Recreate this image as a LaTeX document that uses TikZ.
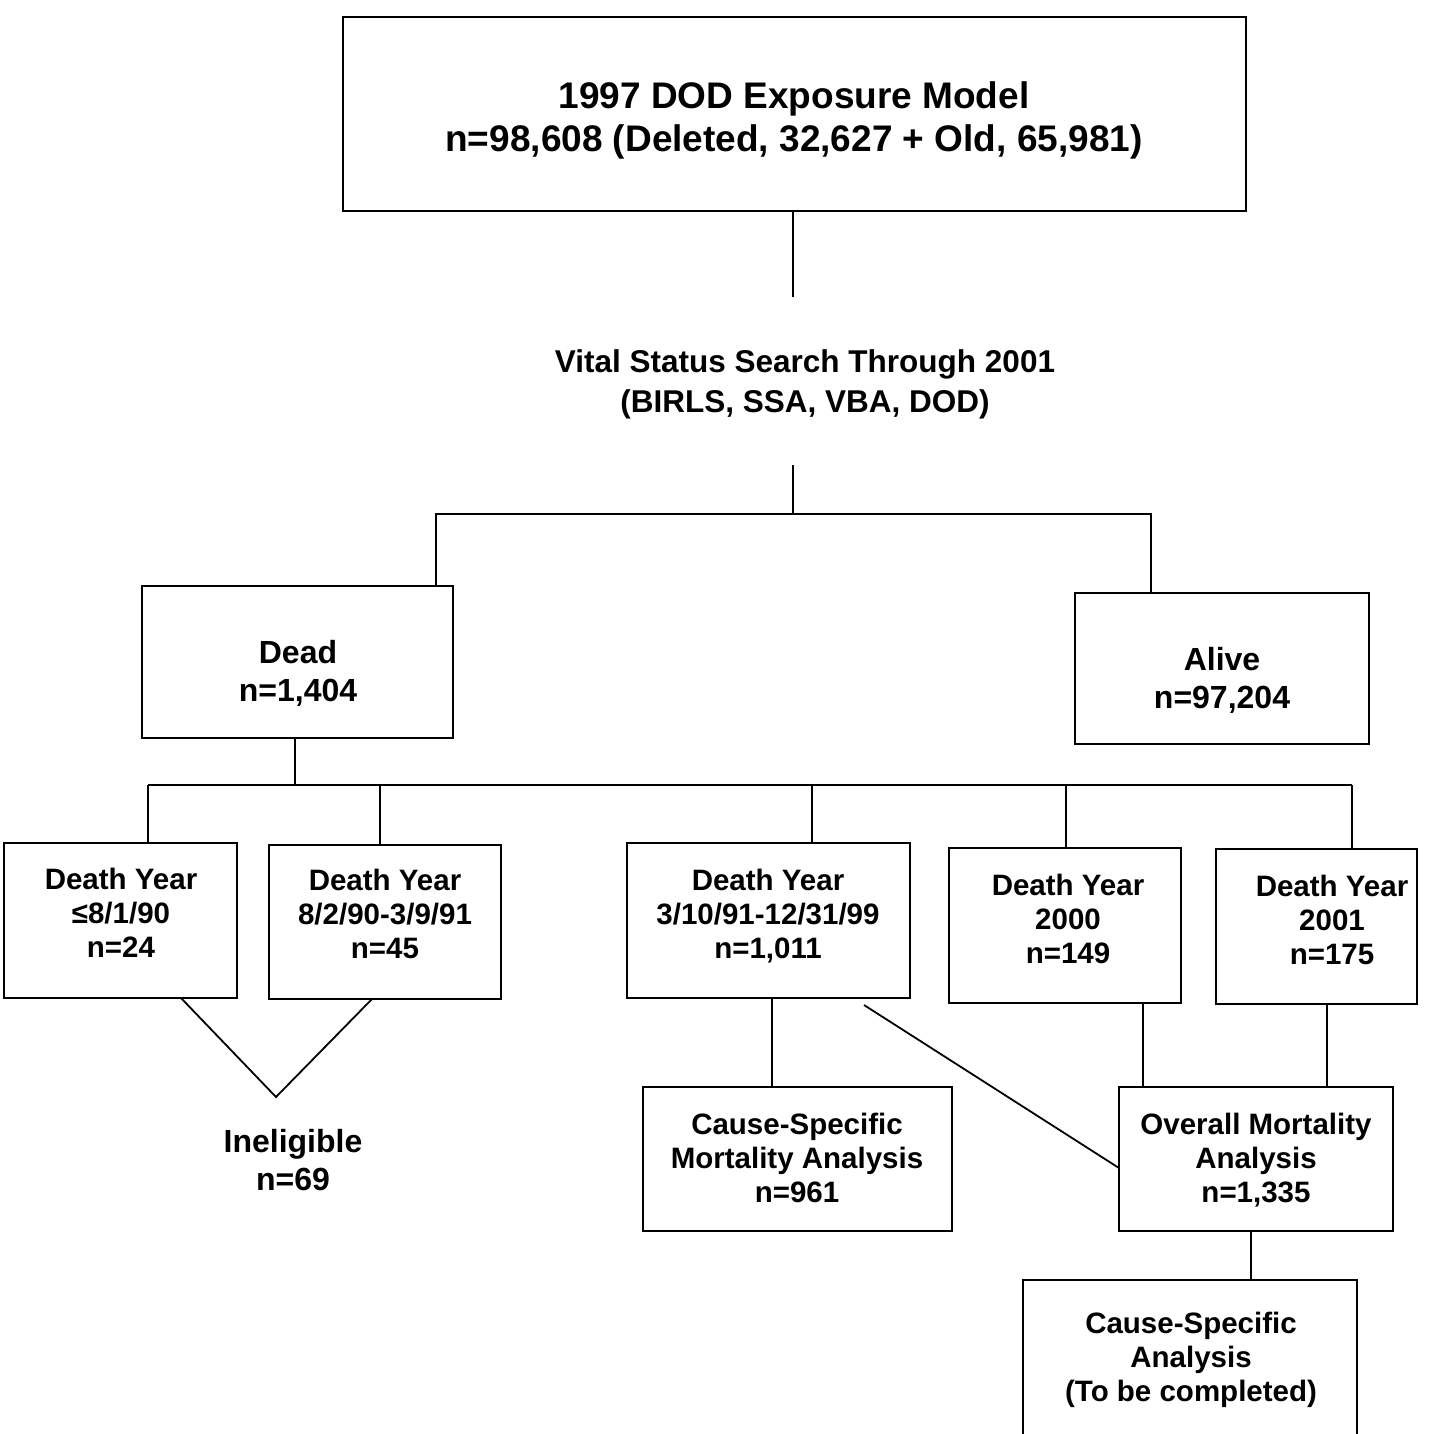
\documentclass[tikz,border=0pt]{standalone}
\usepackage{fontspec}
\setmainfont{Liberation Sans}
\begin{document}
\begin{tikzpicture}[x=1pt,y=-1pt,
  box/.style={draw,line width=1.8pt,inner sep=0pt,outer sep=0pt},
  txt/.style={align=center,inner sep=0pt,font=\bfseries\fontsize{29.5}{34}\selectfont},
  big/.style={align=center,inner sep=0pt,font=\bfseries\fontsize{37}{43}\selectfont},
  mid/.style={align=center,inner sep=0pt,font=\bfseries\fontsize{31.5}{40}\selectfont},
  mid2/.style={align=center,inner sep=0pt,font=\bfseries\fontsize{32}{38}\selectfont},
  ln/.style={line width=1.8pt}]
\useasboundingbox[fill=white] (0,0) rectangle (1446,1433);
% boxes
\node[box,minimum width=903pt,minimum height=194pt] (top) at (794.5,114) {};
\node[big] (toptxt) at (794,120) {1997 DOD Exposure Model\\n=98,608 (Deleted, 32,627 + Old, 65,981)};
\node[mid] (vital) at (805,384) {Vital Status Search Through 2001\\(BIRLS, SSA, VBA, DOD)};
\node[box,minimum width=311pt,minimum height=152pt] (dead) at (297.5,662) {};
\node[mid2] (deadtxt) at (298,673) {Dead\\n=1,404};
\node[box,minimum width=294pt,minimum height=151pt] (alive) at (1222,668.5) {};
\node[mid2] (alivetxt) at (1222,680) {Alive\\n=97,204};
\node[box,minimum width=233pt,minimum height=155pt] (b1) at (120.5,920.5) {};
\node[txt] (b1t) at (121,913) {Death Year\\≤8/1/90\\n=24};
\node[box,minimum width=232pt,minimum height=154pt] (b2) at (385,922) {};
\node[txt] (b2t) at (385,914) {Death Year\\8/2/90-3/9/91\\n=45};
\node[box,minimum width=283pt,minimum height=155pt] (b3) at (768.5,920.5) {};
\node[txt] (b3t) at (768,916) {Death Year\\3/10/91-12/31/99\\n=1,011};
\node[box,minimum width=232pt,minimum height=155pt] (b4) at (1065,925.5) {};
\node[txt] (b4t) at (1068,919) {Death Year\\2000\\n=149};
\node[box,minimum width=201pt,minimum height=155pt] (b5) at (1316.5,926.5) {};
\node[txt] (b5t) at (1332,920) {Death Year\\2001\\n=175};
\node[mid2] (inel) at (293,1160) {Ineligible\\n=69};
\node[box,minimum width=309pt,minimum height=144pt] (csm) at (797.5,1159) {};
\node[txt] (csmt) at (797,1158) {Cause-Specific\\Mortality Analysis\\n=961};
\node[box,minimum width=274pt,minimum height=144pt] (ov) at (1256,1159) {};
\node[txt] (ovt) at (1256,1160) {Overall Mortality\\Analysis\\n=1,335};
\node[inner sep=0pt,outer sep=0pt,minimum width=334pt,minimum height=160pt] (cs) at (1190,1360) {};
\node[txt] (cst) at (1191,1360) {Cause-Specific\\Analysis\\(To be completed)};
\draw[ln] (cs.south west) -- (cs.north west) -- (cs.north east) -- (cs.south east);
% connectors
\coordinate (c1) at (793,297);
\coordinate (v1) at (793,465);
\coordinate (v2) at (793,514);
\coordinate (hd) at (436,514);
\coordinate (ha) at (1151,514);
\coordinate (d1) at (295,785);
\coordinate (hl) at (148,785);
\coordinate (hr) at (1352,785);
\coordinate (h2) at (380,785);
\coordinate (h3) at (812,785);
\coordinate (h4) at (1066,785);
\coordinate (ine) at (276,1097);
\coordinate (ovd) at (1251,1231);
\draw[ln] (top.south -| c1) -- (c1);
\draw[ln] (v1) -- (v2);
\draw[ln] (hd |- dead.north) -- (hd) -- (ha) -- (ha |- alive.north);
\draw[ln] (dead.south -| d1) -- (d1);
\draw[ln] (hl) -- (hr);
\draw[ln] (hl) -- (hl |- b1.north);
\draw[ln] (h2) -- (h2 |- b2.north);
\draw[ln] (h3) -- (h3 |- b3.north);
\draw[ln] (h4) -- (h4 |- b4.north);
\draw[ln] (hr) -- (hr |- b5.north);
\draw[ln] ([xshift=60.5pt]b1.south) -- (ine) -- ([xshift=-13pt]b2.south);
\draw[ln] ([xshift=3.5pt]b3.south) -- ([xshift=-25.5pt]csm.north);
\draw[ln] ([xshift=95.5pt,yshift=-7pt]b3.south) -- ([yshift=-9pt]ov.west);
\draw[ln] ([xshift=78pt]b4.south) -- ([xshift=-113pt]ov.north);
\draw[ln] ([xshift=10.5pt]b5.south) -- ([xshift=71pt]ov.north);
\draw[ln] (ovd) -- (cs.north -| ovd);
\end{tikzpicture}
\end{document}
